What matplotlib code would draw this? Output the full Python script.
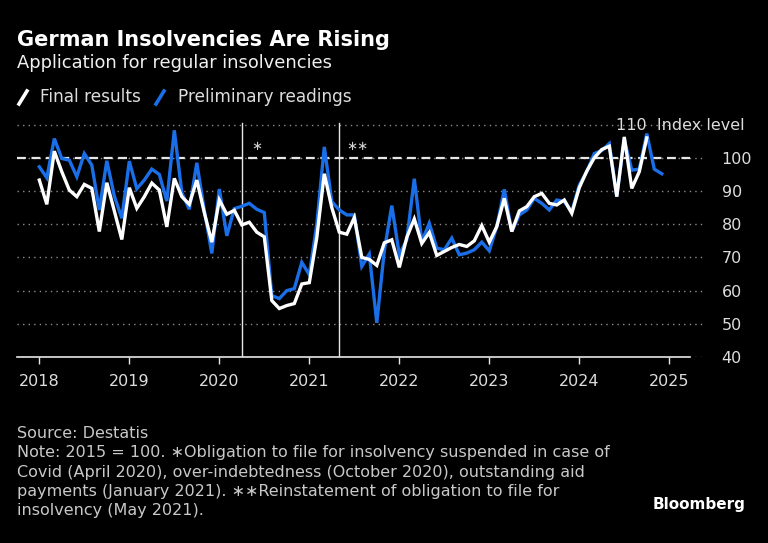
import numpy as np
import matplotlib.pyplot as plt
from matplotlib.lines import Line2D

# monthly index values, 2015 = 100
final_results = [
    93.3, 86.0, 102.0, 95.8, 90.3, 88.3, 92.0, 90.8, 77.8, 92.5, 84.0, 75.4,  # 2018
    91.0, 84.8, 88.3, 92.4, 90.3, 79.2, 93.8, 88.3, 86.0, 93.3, 83.5, 74.6,  # 2019
    87.3, 83.0, 84.2, 79.8, 80.6, 77.6, 76.2, 57.0, 54.6, 55.5, 56.1, 62.0,  # 2020
    62.4, 76.0, 95.2, 85.0, 77.6, 77.0, 82.0, 70.0, 69.4, 67.6, 74.4, 75.3,  # 2021
    67.0, 76.0, 81.6, 74.2, 77.5, 70.6, 71.8, 73.0, 73.9, 73.3, 75.0, 79.6,  # 2022
    74.6, 79.3, 87.8, 77.8, 84.0, 85.3, 88.3, 89.3, 86.3, 85.8, 87.3, 83.3,  # 2023
    91.0, 96.0, 100.0, 102.5, 103.5, 88.3, 106.3, 90.8, 95.8, 106.0,         # 2024
]
preliminary = [
    97.3, 94.0, 105.8, 99.8, 99.3, 94.3, 101.3, 97.8, 84.3, 99.1, 88.5, 81.8,
    99.0, 90.7, 93.3, 96.6, 95.0, 87.0, 108.3, 89.5, 84.5, 98.5, 84.2, 71.2,
    90.6, 76.5, 84.7, 85.4, 86.3, 84.5, 83.5, 58.5, 57.6, 60.0, 60.6, 68.5,
    64.8, 80.0, 103.3, 86.8, 84.3, 82.8, 82.8, 67.3, 71.0, 50.3, 72.0, 85.6,
    70.8, 75.3, 93.7, 74.8, 80.3, 72.8, 72.3, 75.8, 70.8, 71.3, 72.3, 74.6,
    72.0, 79.3, 90.5, 77.8, 82.8, 84.3, 87.8, 86.3, 84.3, 87.3, 86.8, 83.8,
    91.8, 95.8, 101.3, 102.2, 104.3, 88.5, 105.5, 96.3, 96.6, 107.3, 96.6, 95.2,
]
years = list(range(2018, 2026))
y_ticks = [40, 50, 60, 70, 80, 90, 100]
break_dates = [2020 + 3 / 12, 2021 + 4 / 12]  # April 2020, May 2021

t_final = 2018 + np.arange(len(final_results)) / 12
t_prelim = 2018 + np.arange(len(preliminary)) / 12

W, H = 768, 543
fig = plt.figure(figsize=(W / 100, H / 100), dpi=100, facecolor='black')

x0, x1 = 2017.752, 2025.397
line_end = 2025.23
ax = fig.add_axes([17 / W, (H - 357) / H, (705 - 17) / W, (357 - 118) / H])
ax.set_facecolor('black')
ax.set_xlim(x0, x1)
ax.set_ylim(40, 112)

grid_col = '#8c8c8c'
for v in [40, 50, 60, 70, 80, 90, 100, 110]:
    ax.axhline(v, color=grid_col, lw=1.0, ls=(0, (1, 3)), zorder=1)
ax.plot([x0, line_end], [100, 100], color='#e6e6e6', lw=1.6, ls=(0, (4, 2.5)), zorder=2)

for d in break_dates:
    ax.plot([d, d], [40, 110.4], color='#e6e6e6', lw=1.0, zorder=2)
ax.text(break_dates[0] + 0.17, 103.3, '\u2217', color='#d0d0d0', fontsize=9.5, ha='center', va='center')
ax.text(break_dates[1] + 0.2, 103.3, '\u2217\u2217', color='#d0d0d0', fontsize=9.5, ha='center', va='center')

ax.plot(t_prelim, preliminary, color='#1a6fe8', lw=2.4, zorder=3, solid_joinstyle='miter')
ax.plot(t_final, final_results, color='white', lw=2.4, zorder=4, solid_joinstyle='miter')

for s in ['top', 'left', 'right']:
    ax.spines[s].set_visible(False)
ax.spines['bottom'].set_color('#e6e6e6')
ax.spines['bottom'].set_linewidth(1.2)
ax.spines['bottom'].set_bounds(x0, line_end)
ax.spines['bottom'].set_zorder(5)

ax.set_xticks(years)
ax.set_xticklabels([str(y) for y in years])
ax.tick_params(axis='x', colors='#e6e6e6', length=5, width=1.0, pad=7, labelsize=11.5,
               labelcolor='#dddddd')
ax.yaxis.tick_right()
ax.set_yticks(y_ticks)
ax.set_yticklabels([str(v) for v in y_ticks])
ax.tick_params(axis='y', length=0, pad=12, labelsize=11.5, labelcolor='#dddddd')
ax.text(745 / W, (H - 125) / H, '110  Index level', transform=fig.transFigure,
        color='#dddddd', fontsize=11.5, ha='right', va='center')

# header
fig.text(17 / W, (H - 40) / H, 'German Insolvencies Are Rising', color='white',
         fontsize=15, fontweight='bold', va='center')
fig.text(17 / W, (H - 63) / H, 'Application for regular insolvencies', color='#f0f0f0',
         fontsize=12.9, va='center')

# legend
for xs, col in [(19, 'white'), (156, '#1a6fe8')]:
    fig.add_artist(Line2D([xs / W, (xs + 8) / W], [(H - 104) / H, (H - 91) / H],
                          color=col, lw=2.6, transform=fig.transFigure))
fig.text(40 / W, (H - 97) / H, 'Final results', color='#dddddd', fontsize=12.2, va='center')
fig.text(178 / W, (H - 97) / H, 'Preliminary readings', color='#dddddd', fontsize=12.2, va='center')

# footer
notes = [
    'Source: Destatis',
    'Note: 2015 = 100. \u2217Obligation to file for insolvency suspended in case of',
    'Covid (April 2020), over-indebtedness (October 2020), outstanding aid',
    'payments (January 2021). \u2217\u2217Reinstatement of obligation to file for',
    'insolvency (May 2021).',
]
for i, line in enumerate(notes):
    fig.text(17 / W, (H - 433 - 19.5 * i) / H, line, color='#c8c8c8', fontsize=11.5, va='center')
fig.text(745 / W, (H - 505) / H, 'Bloomberg', color='white', fontsize=11,
         fontweight='bold', ha='right', va='center')

fig.savefig('out.png', dpi=100, facecolor='black')
